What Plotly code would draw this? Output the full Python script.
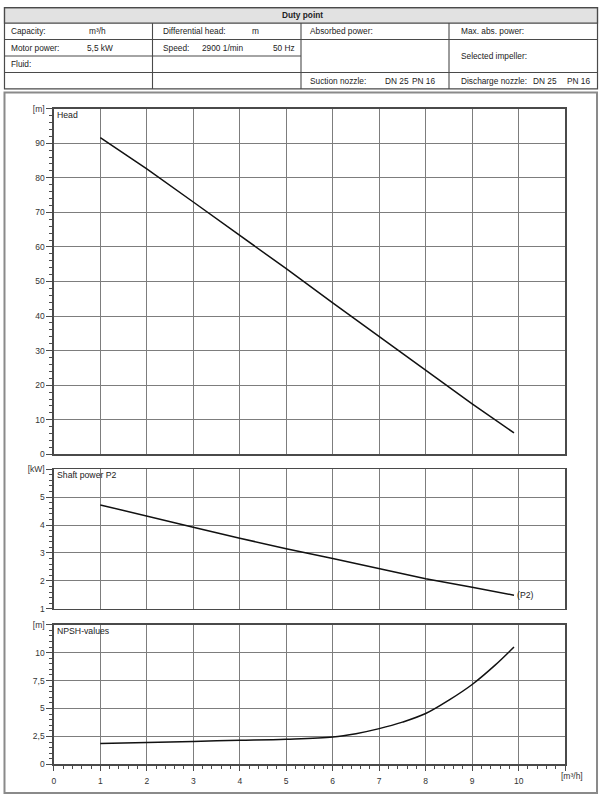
import plotly.graph_objects as go

# ---------------- data ----------------
head_q = [1, 2, 3, 4, 5, 6, 7, 8, 9, 9.9]
head_h = [91.6, 82.6, 73.0, 63.4, 53.7, 43.8, 34.0, 24.2, 14.6, 6.2]

power_q = [1, 2, 3, 4, 5, 6, 7, 8, 9, 9.9]
power_p2 = [4.72, 4.31, 3.92, 3.53, 3.15, 2.80, 2.44, 2.08, 1.77, 1.49]

npsh_q = [1, 2, 3, 4, 5, 6, 6.5, 7, 7.5, 8, 8.5, 9, 9.5, 9.9]
npsh_v = [1.88, 1.97, 2.06, 2.15, 2.25, 2.45, 2.75, 3.2, 3.78, 4.55, 5.75, 7.15, 8.9, 10.5]

x_ticks = [0, 1, 2, 3, 4, 5, 6, 7, 8, 9, 10, 11]
x_ticktext = ["0", "1", "2", "3", "4", "5", "6", "7", "8", "9", "10", ""]
head_ticks = [0, 10, 20, 30, 40, 50, 60, 70, 80, 90, 100]
head_ticktext = ["0", "10", "20", "30", "40", "50", "60", "70", "80", "90", "[m]"]
power_ticks = [1, 2, 3, 4, 5, 6]
power_ticktext = ["1", "2", "3", "4", "5", "[kW]"]
npsh_ticks = [0, 2.5, 5, 7.5, 10, 12.5]
npsh_ticktext = ["0", "2,5", "5", "7,5", "10", "[m]"]

# table texts: (text, x px, y px, bold)
table_texts = [
    ("Duty point", 302, 10.5, True),
    ("Capacity:", 7.5, 26.7, False), ("m³/h", 85, 26.7, False),
    ("Differential head:", 160, 26.7, False), ("m", 249, 26.7, False),
    ("Absorbed power:", 307.5, 26.7, False),
    ("Max. abs. power:", 458.5, 26.7, False),
    ("Motor power:", 7.5, 43.3, False), ("5,5 kW", 83.5, 43.3, False),
    ("Speed:", 160, 43.3, False), ("2900 1/min", 199, 43.3, False), ("50 Hz", 270, 43.3, False),
    ("Selected impeller:", 458.5, 51.7, False),
    ("Fluid:", 7.5, 60, False),
    ("Suction nozzle:", 307.5, 76.7, False), ("DN 25", 382.5, 76.7, False), ("PN 16", 409, 76.7, False),
    ("Discharge nozzle:", 458.5, 76.7, False), ("DN 25", 531, 76.7, False), ("PN 16", 565, 76.7, False),
]

# ---------------- geometry helpers ----------------
W, H = 600, 801


def px(x):
    return x / W


def py(y):
    return 1 - y / H


FONT = "Liberation Sans, Arial, sans-serif"
GRID = "#7d7d7d"
FRAME = "#4a4a4a"
TXT = "#333333"

x_dom = [px(52), px(565)]
head_dom = [py(455), py(105)]
power_dom = [py(611.5), py(470)]
npsh_dom = [py(769), py(627.5)]

fig = go.Figure()
lin = dict(color="#111111", width=1.5)
spl = dict(color="#111111", width=1.5, shape="spline", smoothing=1.0)
fig.add_trace(go.Scatter(x=head_q, y=head_h, mode="lines", line=lin,
                         xaxis="x", yaxis="y", hoverinfo="skip"))
fig.add_trace(go.Scatter(x=power_q, y=power_p2, mode="lines", line=lin,
                         xaxis="x2", yaxis="y2", hoverinfo="skip"))
fig.add_trace(go.Scatter(x=npsh_q, y=npsh_v, mode="lines", line=spl,
                         xaxis="x3", yaxis="y3", hoverinfo="skip"))


def xaxis(anchor, labels):
    d = dict(domain=x_dom, range=[0, 11], anchor=anchor, tickmode="array",
             tickvals=x_ticks, showgrid=True, gridcolor=GRID, gridwidth=1,
             showline=True, linecolor=FRAME, linewidth=1.5, mirror=True,
             zeroline=False, fixedrange=True,
             tickfont=dict(family=FONT, size=8.5, color=TXT))
    if labels:
        d.update(ticktext=x_ticktext, ticks="outside", ticklen=5, tickwidth=1,
                 tickcolor=FRAME, ticklabelstandoff=3,
                 minor=dict(dtick=0.2, ticks="outside", ticklen=3, tickcolor=FRAME,
                            tickwidth=1, showgrid=False))
    else:
        d.update(showticklabels=False, ticks="")
    return d


def yaxis(anchor, dom, rng, vals, text, minor):
    return dict(domain=dom, range=rng, anchor=anchor, tickmode="array",
                tickvals=vals, ticktext=text, showgrid=True, gridcolor=GRID,
                gridwidth=1, showline=True, linecolor=FRAME, linewidth=1.5,
                mirror=True, zeroline=False, fixedrange=True,
                ticks="outside", ticklen=6, tickwidth=1, tickcolor=FRAME,
                minor=dict(dtick=minor, ticks="outside", ticklen=3.5, tickcolor=FRAME,
                           tickwidth=1, showgrid=False),
                tickfont=dict(family=FONT, size=8.5, color=TXT))


shapes = []
annotations = []

# outer chart box
shapes.append(dict(type="rect", xref="paper", yref="paper",
                   x0=px(2.5), x1=px(597), y0=py(798), y1=py(88.5),
                   line=dict(color="#8a8a8a", width=2)))

# table header fill
shapes.append(dict(type="rect", xref="paper", yref="paper",
                   x0=px(2.5), x1=px(597.5), y0=py(18.3), y1=py(2.7),
                   fillcolor="#e2e2e2", line=dict(color=FRAME, width=1.2), layer="below"))
# table outer
shapes.append(dict(type="rect", xref="paper", yref="paper",
                   x0=px(2.5), x1=px(597.5), y0=py(85), y1=py(2.7),
                   line=dict(color=FRAME, width=1.2)))


def hline(x0, x1, y):
    shapes.append(dict(type="line", xref="paper", yref="paper",
                       x0=px(x0), x1=px(x1), y0=py(y), y1=py(y),
                       line=dict(color=FRAME, width=1.1)))


def vline(x, y0, y1):
    shapes.append(dict(type="line", xref="paper", yref="paper",
                       x0=px(x), x1=px(x), y0=py(y0), y1=py(y1),
                       line=dict(color=FRAME, width=1.1)))


hline(2.5, 597.5, 35)
hline(2.5, 300, 51.7)
hline(2.5, 300, 68.3)
hline(300, 597.5, 68.3)
vline(151, 18.3, 85)
vline(300, 18.3, 85)
vline(448.5, 18.3, 85)

for t, x, y, b in table_texts:
    annotations.append(dict(text=f"<b>{t}</b>" if b else t, xref="paper", yref="paper",
                            x=px(x), y=py(y), xanchor="center" if b else "left",
                            yanchor="middle", showarrow=False,
                            font=dict(family=FONT, size=8.3, color="#222222")))

# chart titles inside plots
for t, y in [("Head", 111), ("Shaft power P2", 476), ("NPSH-values", 633.5)]:
    annotations.append(dict(text=t, xref="paper", yref="paper", x=px(53.5), y=py(y),
                            xanchor="left", yanchor="middle", showarrow=False,
                            font=dict(family=FONT, size=8.7, color="#222222")))

# curve label and x unit
annotations.append(dict(text="(P2)", xref="x2", yref="y2", x=power_q[-1], y=power_p2[-1],
                        xanchor="left", yanchor="middle", xshift=1, showarrow=False,
                        font=dict(family=FONT, size=8.7, color="#222222")))
annotations.append(dict(text="[m³/h]", xref="paper", yref="paper", x=px(558.5), y=py(780.5),
                        xanchor="left", yanchor="middle", showarrow=False,
                        font=dict(family=FONT, size=8.5, color=TXT)))

fig.update_layout(
    width=W, height=H, margin=dict(l=0, r=0, t=0, b=0),
    paper_bgcolor="white", plot_bgcolor="white", showlegend=False,
    xaxis=xaxis("y", False), xaxis2=xaxis("y2", False), xaxis3=xaxis("y3", True),
    yaxis=yaxis("x", head_dom, [0, 100], head_ticks, head_ticktext, 2),
    yaxis2=yaxis("x2", power_dom, [1, 6], power_ticks, power_ticktext, 0.2),
    yaxis3=yaxis("x3", npsh_dom, [0, 12.5], npsh_ticks, npsh_ticktext, 0.5),
    shapes=shapes, annotations=annotations,
)

fig.write_html("out.html", config={"displayModeBar": False, "staticPlot": True},
               post_script="document.body.style.margin='0';")
